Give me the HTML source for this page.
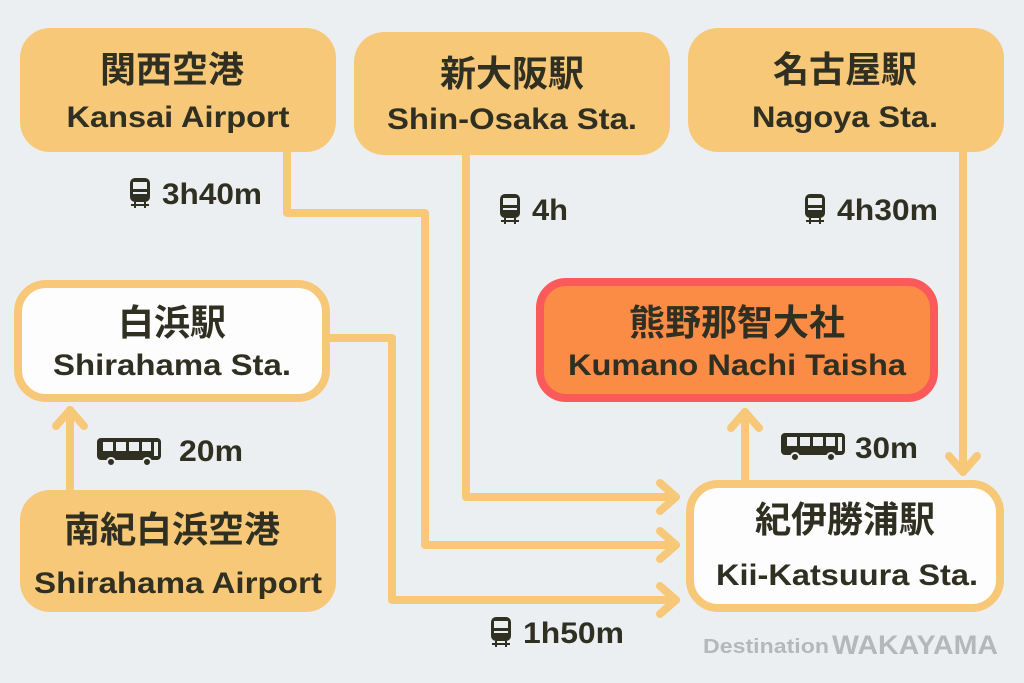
<!DOCTYPE html>
<html><head><meta charset="utf-8"><style>
html,body{margin:0;padding:0;background:#eceff1;}
svg{display:block}
.jp{font-family:"Liberation Sans","Noto Sans CJK JP",sans-serif;font-weight:bold;font-size:36px;fill:#2f2f22;text-anchor:middle}
.en{font-family:"Liberation Sans",sans-serif;font-weight:bold;font-size:30px;fill:#2f2f22;text-anchor:middle}
.lb{font-family:"Liberation Sans",sans-serif;font-weight:bold;font-size:30px;fill:#2f2f22}
</style></head><body>
<svg width="1024" height="683" viewBox="0 0 1024 683" xmlns="http://www.w3.org/2000/svg">
<defs>
<g id="train"><rect x="0" y="0" width="20" height="24" rx="5" fill="#2f2f22"/><rect x="3" y="4" width="14" height="7" fill="#eceff1"/><rect x="3" y="14" width="14" height="2" fill="#eceff1"/><rect x="4" y="24" width="2" height="6" fill="#2f2f22"/><rect x="14" y="24" width="2" height="6" fill="#2f2f22"/><rect x="1" y="26" width="18" height="2" fill="#2f2f22"/></g>
<g id="bus"><rect x="0" y="0" width="64" height="22" rx="4" fill="#2f2f22"/><rect x="6" y="4" width="10" height="9" fill="#eceff1"/><rect x="19" y="4" width="10" height="9" fill="#eceff1"/><rect x="32" y="4" width="10" height="9" fill="#eceff1"/><rect x="45" y="4" width="9" height="9" fill="#eceff1"/><rect x="57" y="4" width="4" height="14" fill="#eceff1"/><circle cx="14" cy="24" r="4" fill="#2f2f22" stroke="#eceff1" stroke-width="2"/><circle cx="50" cy="24" r="4" fill="#2f2f22" stroke="#eceff1" stroke-width="2"/></g>
</defs>
<rect width="1024" height="683" fill="#eceff1"/>
<g fill="none" stroke="#f8c879" stroke-width="8" stroke-linejoin="round" stroke-linecap="round">
<polyline points="287,152 287,213 425,213 425,545 676,545"/>
<polyline points="466,155 466,497 676,497"/>
<polyline points="330,338 392,338 392,600 676,600"/>
<polyline points="963,152 963,472"/>
<polyline points="745,480 745,412"/>
<polyline points="70,490 70,410"/>
<polyline points="660,483 676,497 660,511"/>
<polyline points="660,531 676,545 660,559"/>
<polyline points="660,586 676,600 660,614"/>
<polyline points="949,456 963,472 977,456"/>
<polyline points="731,428 745,412 759,428"/>
<polyline points="56,426 70,410 84,426"/>
</g>
<rect x="20" y="28" width="316" height="124" rx="30" fill="#f8c879"/>
<rect x="354" y="32" width="316" height="123" rx="30" fill="#f8c879"/>
<rect x="688" y="28" width="316" height="124" rx="30" fill="#f8c879"/>
<rect x="20" y="490" width="316" height="122" rx="30" fill="#f8c879"/>
<rect x="18" y="284" width="308" height="114" rx="28" fill="#fdfdfd" stroke="#f8c879" stroke-width="8"/>
<rect x="690" y="484" width="310" height="124" rx="28" fill="#fdfdfd" stroke="#f8c879" stroke-width="8"/>
<rect x="540" y="282" width="394" height="116" rx="26" fill="#fb8c45" stroke="#fb5a5a" stroke-width="8"/>
<text class="jp" x="172" y="82">関西空港</text>
<text class="en" x="178" y="127" textLength="223" lengthAdjust="spacingAndGlyphs">Kansai Airport</text>
<text class="jp" x="512" y="86">新大阪駅</text>
<text class="en" x="512" y="129" textLength="250" lengthAdjust="spacingAndGlyphs">Shin-Osaka Sta.</text>
<text class="jp" x="845" y="82">名古屋駅</text>
<text class="en" x="845" y="127" textLength="186" lengthAdjust="spacingAndGlyphs">Nagoya Sta.</text>
<text class="jp" x="172" y="335">白浜駅</text>
<text class="en" x="172" y="375" textLength="238" lengthAdjust="spacingAndGlyphs">Shirahama Sta.</text>
<text class="jp" x="737" y="335">熊野那智大社</text>
<text class="en" x="737" y="375" textLength="338" lengthAdjust="spacingAndGlyphs">Kumano Nachi Taisha</text>
<text class="jp" x="845" y="532">紀伊勝浦駅</text>
<text class="en" x="847" y="585" textLength="262" lengthAdjust="spacingAndGlyphs">Kii-Katsuura Sta.</text>
<text class="jp" x="172" y="542">南紀白浜空港</text>
<text class="en" x="178" y="593" textLength="288" lengthAdjust="spacingAndGlyphs">Shirahama Airport</text>
<use href="#train" x="130" y="178"/><text class="lb" x="162" y="204" textLength="100" lengthAdjust="spacingAndGlyphs">3h40m</text>
<use href="#train" x="500" y="194"/><text class="lb" x="532" y="220" textLength="36" lengthAdjust="spacingAndGlyphs">4h</text>
<use href="#train" x="805" y="194"/><text class="lb" x="837" y="220" textLength="101" lengthAdjust="spacingAndGlyphs">4h30m</text>
<use href="#train" x="491" y="617"/><text class="lb" x="523" y="643" textLength="101" lengthAdjust="spacingAndGlyphs">1h50m</text>
<use href="#bus" x="97" y="438"/><text class="lb" x="179" y="461" textLength="64" lengthAdjust="spacingAndGlyphs">20m</text>
<use href="#bus" x="781" y="433"/><text class="lb" x="855" y="458" textLength="63" lengthAdjust="spacingAndGlyphs">30m</text>
<text x="703" y="653" font-family="Liberation Sans,sans-serif" font-weight="bold" font-size="20" fill="#b5b8ba" textLength="126" lengthAdjust="spacingAndGlyphs">Destination</text>
<text x="832" y="654" font-family="Liberation Sans,sans-serif" font-weight="bold" font-size="27" fill="#b5b8ba" textLength="166" lengthAdjust="spacingAndGlyphs">WAKAYAMA</text>
</svg>
</body></html>
